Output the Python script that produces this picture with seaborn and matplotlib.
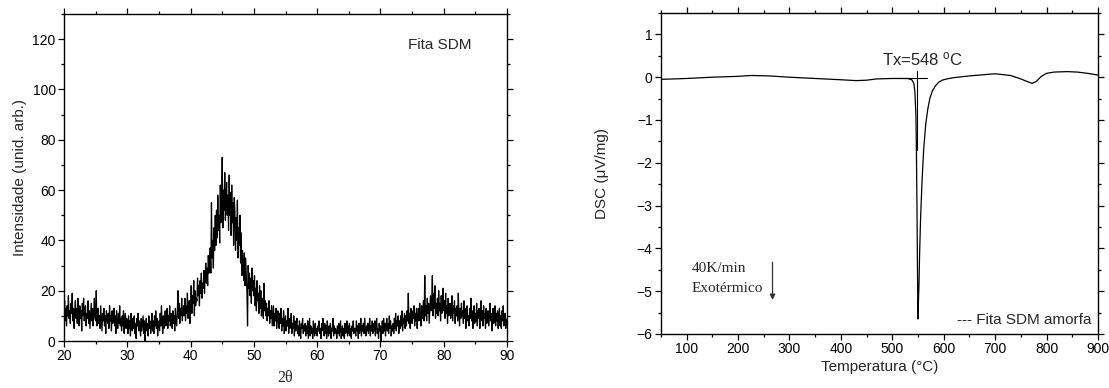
"""
XRD pattern and DSC curve of the amorphous SDM ribbon, side by side.
"""

from matplotlib import pyplot as plt
from matplotlib.ticker import MultipleLocator
import numpy as np
import pandas as pd
import seaborn as sns

# XRD intensities, one value every 0.1 degree (2theta 20 -> 90)
xrd_start = 20.0
xrd_step = 0.1
xrd_intensity = [
    11, 16, 8, 13, 6, 14, 10, 18, 9, 12,     # 20
    7, 15, 11, 19, 8, 13, 5, 12, 16, 9,      # 21
    13, 7, 17, 10, 6, 14, 9, 12, 4, 15,      # 22
    10, 17, 8, 12, 14, 6, 11, 9, 16, 7,      # 23
    12, 5, 10, 15, 8, 13, 6, 11, 17, 9,      # 24
    8, 20, 6, 11, 13, 7, 10, 5, 14, 9,       # 25
    4, 11, 8, 13, 6, 10, 3, 12, 9, 7,        # 26
    11, 5, 14, 8, 10, 4, 12, 7, 9, 13,       # 27
    6, 10, 3, 12, 8, 5, 11, 7, 14, 6,        # 28
    9, 4, 10, 6, 12, 3, 8, 11, 5, 9,         # 29
    7, 3, 10, 5, 8, 2, 11, 6, 4, 9,          # 30
    5, 10, 3, 7, 1, 9, 6, 11, 4, 8,          # 31
    6, 2, 9, 4, 7, 10, 3, 8, 0, 6,           # 32
    9, 4, 7, 2, 10, 5, 8, 3, 6, 11,          # 33
    4, 8, 3, 10, 6, 12, 5, 9, 2, 7,          # 34
    8, 4, 11, 6, 14, 7, 3, 10, 5, 9,         # 35
    12, 6, 9, 13, 5, 10, 8, 14, 6, 11,       # 36
    9, 5, 12, 7, 10, 4, 13, 8, 6, 11,        # 37
    20, 9, 15, 7, 13, 10, 17, 8, 12, 14,     # 38
    10, 17, 8, 14, 11, 19, 9, 13, 16, 7,     # 39
    13, 22, 11, 18, 15, 24, 10, 20, 14, 17,  # 40
    16, 25, 18, 22, 14, 24, 19, 27, 17, 23,  # 41
    21, 28, 19, 26, 31, 23, 29, 22, 34, 27,  # 42
    30, 37, 27, 55, 33, 40, 29, 45, 36, 50,  # 43
    38, 52, 41, 58, 44, 50, 39, 62, 47, 55,  # 44
    73, 45, 60, 52, 67, 48, 57, 63, 50, 58,  # 45
    44, 66, 50, 59, 42, 62, 47, 55, 38, 57,  # 46
    52, 36, 49, 40, 56, 33, 45, 38, 50, 31,  # 47
    43, 26, 36, 30, 24, 35, 22, 33, 27, 20,  # 48
    6, 30, 21, 27, 18, 25, 15, 29, 20, 24,   # 49
    18, 26, 14, 21, 12, 24, 16, 19, 11, 22,  # 50
    13, 20, 10, 17, 14, 9, 23, 12, 16, 10,   # 51
    15, 8, 13, 10, 16, 7, 12, 9, 14, 6,      # 52
    10, 14, 6, 11, 8, 13, 5, 9, 12, 7,       # 53
    5, 11, 7, 13, 4, 9, 6, 12, 3, 8,         # 54
    10, 4, 8, 6, 13, 3, 9, 5, 7, 11,         # 55
    3, 7, 5, 10, 2, 8, 4, 6, 9, 3,           # 56
    6, 2, 8, 4, 1, 7, 5, 9, 3, 6,            # 57
    4, 7, 2, 6, 3, 8, 1, 5, 9, 2,            # 58
    6, 3, 5, 1, 8, 4, 2, 7, 3, 5,            # 59
    2, 6, 4, 8, 3, 5, 1, 7, 4, 9,            # 60
    5, 2, 7, 3, 6, 1, 8, 4, 2, 6,            # 61
    3, 7, 1, 5, 4, 9, 2, 6, 3, 5,            # 62
    4, 1, 6, 3, 7, 2, 5, 8, 1, 4,            # 63
    6, 2, 5, 1, 7, 3, 4, 8, 2, 6,            # 64
    3, 7, 2, 5, 1, 6, 4, 8, 3, 5,            # 65
    5, 2, 8, 4, 6, 1, 7, 3, 5, 9,            # 66
    2, 6, 4, 7, 3, 9, 5, 2, 6, 4,            # 67
    7, 3, 5, 9, 2, 6, 4, 8, 3, 7,            # 68
    4, 8, 2, 6, 9, 3, 5, 1, 7, 4,            # 69
    6, 0, 5, 8, 3, 9, 4, 7, 2, 6,            # 70
    9, 4, 7, 3, 10, 5, 8, 2, 6, 4,           # 71
    7, 3, 9, 5, 11, 4, 8, 6, 10, 3,          # 72
    8, 5, 10, 6, 12, 4, 9, 7, 11, 5,         # 73
    10, 6, 12, 8, 19, 7, 11, 5, 13, 9,       # 74
    7, 12, 9, 14, 6, 11, 8, 13, 5, 10,       # 75
    13, 8, 15, 10, 6, 14, 9, 12, 16, 8,      # 76
    26, 10, 14, 8, 17, 11, 15, 7, 13, 18,    # 77
    12, 16, 26, 10, 19, 13, 22, 9, 15, 11,   # 78
    17, 10, 20, 12, 15, 8, 18, 11, 14, 21,   # 79
    12, 16, 9, 19, 11, 14, 7, 17, 10, 13,    # 80
    15, 9, 12, 18, 8, 14, 11, 16, 7, 13,     # 81
    10, 14, 8, 19, 11, 6, 13, 9, 15, 10,     # 82
    12, 7, 16, 9, 13, 5, 11, 14, 8, 10,      # 83
    6, 13, 9, 17, 8, 12, 5, 11, 14, 7,       # 84
    11, 8, 15, 6, 12, 9, 13, 5, 10, 16,      # 85
    8, 12, 6, 14, 9, 11, 5, 13, 7, 10,       # 86
    12, 6, 10, 15, 8, 11, 4, 9, 13, 7,       # 87
    9, 14, 6, 11, 8, 12, 5, 10, 13, 6,       # 88
    10, 5, 12, 8, 14, 6, 9, 11, 5, 8,        # 89
    9,                                        # 90
]

# DSC curve
dsc_temp = [50, 100, 150, 200, 225, 260, 300, 350, 400, 430, 450, 470, 500, 530,
            538, 542, 544, 546, 547, 548, 549, 550, 551, 552, 553, 555, 558, 561,
            565, 569, 573, 578, 584, 590, 597, 606, 620, 650, 700, 730, 750, 760,
            772, 780, 790, 800, 815, 840, 860, 880, 900]
dsc_signal = [-0.05, -0.03, 0.0, 0.02, 0.04, 0.03, 0.0, -0.03, -0.06, -0.08, -0.07, -0.04, -0.03, -0.03,
              -0.06, -0.15, -0.35, -0.9, -1.8, -3.0, -4.5, -5.65, -5.2, -4.8, -4.2, -3.3, -2.4, -1.7,
              -1.1, -0.75, -0.5, -0.32, -0.2, -0.12, -0.07, -0.04, -0.01, 0.03, 0.08, 0.04, -0.04, -0.09,
              -0.145, -0.1, 0.02, 0.09, 0.12, 0.13, 0.12, 0.09, 0.05]

tx_value = 548

sns.set_theme(style="ticks")
plt.rcParams["font.family"] = ["Liberation Sans", "DejaVu Sans"]
plt.rcParams["mathtext.fontset"] = "custom"
plt.rcParams["mathtext.rm"] = "Liberation Sans"
plt.rcParams["mathtext.it"] = "Liberation Sans:italic"

xrd = pd.DataFrame({
    "two_theta": xrd_start + xrd_step * np.arange(len(xrd_intensity)),
    "intensity": xrd_intensity,
})
dsc = pd.DataFrame({"temp": dsc_temp, "signal": dsc_signal})

fig = plt.figure(figsize=(11.09, 3.88), dpi=100)
ax1 = fig.add_axes([0.0577, 0.1211, 0.3995, 0.8428])
ax2 = fig.add_axes([0.596, 0.1392, 0.394, 0.8273])


def style_axes(ax):
    for side in ax.spines.values():
        side.set_linewidth(1.0)
        side.set_color("black")
    ax.tick_params(which="both", direction="out", top=True, right=True,
                   labeltop=False, labelright=False, colors="black",
                   labelsize=10, width=0.9)
    ax.tick_params(which="major", length=4, pad=2)
    ax.tick_params(which="minor", length=2.5)


# left: XRD
sns.lineplot(data=xrd, x="two_theta", y="intensity", ax=ax1, color="black",
             linewidth=0.9, estimator=None)
ax1.set_xlim(20, 90)
ax1.set_ylim(0, 130)
ax1.xaxis.set_major_locator(MultipleLocator(10))
ax1.xaxis.set_minor_locator(MultipleLocator(5))
ax1.yaxis.set_major_locator(MultipleLocator(20))
ax1.yaxis.set_minor_locator(MultipleLocator(10))
ax1.set_xlabel("2θ", family=["Liberation Serif"], fontsize=11.5, labelpad=5)
ax1.set_ylabel("Intensidade (unid. arb.)", fontsize=11, labelpad=4)
ax1.text(74.4, 117.7, "Fita SDM", fontsize=11, va="center", ha="left")
style_axes(ax1)

# right: DSC
sns.lineplot(data=dsc, x="temp", y="signal", ax=ax2, color="black",
             linewidth=0.9, estimator=None)
ax2.set_xlim(50, 900)
ax2.set_ylim(-6, 1.5)
ax2.xaxis.set_major_locator(MultipleLocator(100))
ax2.xaxis.set_minor_locator(MultipleLocator(50))
ax2.yaxis.set_major_locator(MultipleLocator(1))
ax2.yaxis.set_minor_locator(MultipleLocator(0.5))
ax2.set_xlabel("Temperatura (°C)", fontsize=11, labelpad=3)
ax2.set_ylabel("DSC (μV/mg)", fontsize=11, labelpad=20)
style_axes(ax2)

# Tx marker cross
ax2.plot([510, 567], [-0.03, -0.03], color="black", linewidth=0.8)
ax2.plot([tx_value, tx_value], [0.15, -1.7], color="black", linewidth=0.8)
ax2.text(480, 0.42, f"Tx={tx_value} $^{{\\mathrm{{o}}}}$C", fontsize=12,
         va="center", ha="left")

ax2.text(110, -4.46, "40K/min", family=["Liberation Serif"], fontsize=11,
         va="center", ha="left")
ax2.text(110, -4.93, "Exotérmico", family=["Liberation Serif"], fontsize=11,
         va="center", ha="left")
ax2.annotate("", xy=(267, -5.27), xytext=(267, -4.26),
             arrowprops=dict(arrowstyle="-|>", color="#333333", lw=0.9,
                             mutation_scale=8))
ax2.text(0.985, 0.045, "--- Fita SDM amorfa", transform=ax2.transAxes,
         fontsize=11, va="center", ha="right")

fig.savefig("out.png", dpi=100)
